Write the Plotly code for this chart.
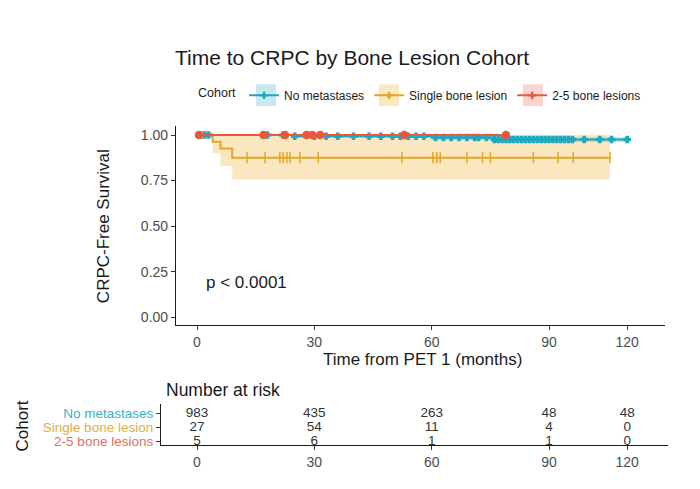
import plotly.graph_objects as go

# ---------------- data ----------------
cohorts = ["No metastases", "Single bone lesion", "2-5 bone lesions"]
line_colors = ["#1FA8BE", "#E3A726", "#E8583F"]
band_colors = ["rgba(31,168,190,0.30)", "rgba(240,180,60,0.32)", "rgba(232,88,63,0.30)"]
key_colors = ["rgba(31,168,190,0.25)", "rgba(240,180,60,0.30)", "rgba(232,88,63,0.25)"]
label_colors = ["#33B3C8", "#E0B040", "#D9745F"]

# Kaplan-Meier step data (time in months, survival)
nomet_t = [0, 25, 60, 76, 110]
nomet_s = [1.0, 0.993, 0.986, 0.976, 0.976]
nomet_lo = [1.0, 0.985, 0.975, 0.962, 0.962]
nomet_hi = [1.0, 1.0, 0.995, 0.988, 0.988]
nomet_cens = [1, 2, 3, 18, 22, 25, 30, 33, 36, 40, 44, 47, 50, 52, 54, 56, 58, 61, 63,
               65, 67, 69, 71, 72, 74, 76, 77, 78, 79, 80, 81, 82, 83, 84, 85, 86,
               87, 88, 89, 90, 91, 92, 93, 94, 95, 96, 99, 103, 106, 110]

single_t = [0, 4, 6, 9, 105.6]
single_s = [1.0, 0.963, 0.926, 0.876, 0.876]
single_lo = [1.0, 0.90, 0.83, 0.757, 0.757]
single_hi = [1.0, 1.0, 1.0, 1.0, 1.0]
single_cens = [12.8, 17.4, 21.2, 22.0, 23.0, 23.8, 26.3, 31.0, 52.4, 60.3, 61.3,
               62.2, 69.0, 73.0, 75.0, 86.0, 92.3, 96.2, 105.6]

lesion_t = [0, 79]
lesion_s = [1.0, 1.0]
lesion_cens = [0.5, 17.0, 22.5, 28.0, 29.5, 31.5, 53.0, 79.0]

# tick positions on the time axis and their labels
time_ticks = [0, 30, 60, 90, 110]
time_labels = ["0", "30", "60", "90", "120"]
surv_ticks = [0, 0.25, 0.5, 0.75, 1.0]

# number at risk
risk_nomet = [983, 435, 263, 48, 48]
risk_single = [27, 54, 11, 4, 0]
risk_lesion = [5, 6, 1, 1, 0]

p_text = "p < 0.0001"
title_text = "Time to CRPC by Bone Lesion Cohort"

# ---------------- helpers ----------------
def step_value(ts, ss, t):
    v = ss[0]
    for ti, si in zip(ts, ss):
        if ti <= t:
            v = si
    return v

FONT = "Liberation Sans, Arial, sans-serif"
GREY = "#4D4D4D"

fig = go.Figure()

curves = [
    (nomet_t, nomet_s, nomet_lo, nomet_hi, nomet_cens),
    (single_t, single_s, single_lo, single_hi, single_cens),
    (lesion_t, lesion_s, None, None, lesion_cens),
]

# ribbons
for i, (t, s, lo, hi, c) in enumerate(curves):
    if lo is None:
        continue
    fig.add_trace(go.Scatter(x=t, y=lo, mode="lines", line=dict(width=0, shape="hv"),
                             showlegend=False, hoverinfo="skip", xaxis="x", yaxis="y"))
    fig.add_trace(go.Scatter(x=t, y=hi, mode="lines", line=dict(width=0, shape="hv"),
                             fill="tonexty", fillcolor=band_colors[i],
                             showlegend=False, hoverinfo="skip", xaxis="x", yaxis="y"))

# lines + censor marks
symbols = ["cross", "line-ns-open", "circle"]
msizes = [5, 8, 7]
for i in [1, 0, 2]:
    t, s, lo, hi, c = curves[i]
    fig.add_trace(go.Scatter(x=t, y=s, mode="lines", line=dict(color=line_colors[i], width=2, shape="hv"),
                             showlegend=False, hoverinfo="skip", xaxis="x", yaxis="y"))
    fig.add_trace(go.Scatter(x=c, y=[step_value(t, s, v) for v in c], mode="markers",
                             marker=dict(symbol=symbols[i], size=msizes[i], color=line_colors[i],
                                         line=dict(color=line_colors[i], width=1.5)),
                             showlegend=False, hoverinfo="skip", xaxis="x", yaxis="y"))

# legend entries
for i, name in enumerate(cohorts):
    fig.add_trace(go.Scatter(x=[None], y=[None], mode="lines+markers", name=name,
                             line=dict(color=line_colors[i], width=2),
                             marker=dict(symbol="cross", size=6, color=line_colors[i]),
                             xaxis="x", yaxis="y"))

# risk table
risk_rows = [risk_nomet, risk_single, risk_lesion]
row_pos = [2, 1, 0]
for r, vals in enumerate(risk_rows):
    fig.add_trace(go.Scatter(x=time_ticks, y=[row_pos[r]] * len(vals), mode="text",
                             text=[str(v) for v in vals],
                             textfont=dict(family=FONT, size=13.5, color="#333333"),
                             showlegend=False, hoverinfo="skip", xaxis="x2", yaxis="y2"))

# ---------------- layout ----------------
W, H = 700, 489
def px_x(p):
    return p / W
def px_y(p):
    return 1 - p / H

scale = (549 - 197) / 90.0
x_lo = (176 - 197) / scale
x_hi = (665 - 197) / scale
x2_lo = (161 - 197) / scale
x2_hi = (668 - 197) / scale

axis_common = dict(showline=True, linecolor="#1a1a1a", linewidth=1.2, ticks="outside",
                   ticklen=4, tickcolor="#333333", showgrid=False, zeroline=False)

fig.update_layout(
    width=W, height=H,
    margin=dict(l=0, r=0, t=0, b=0),
    paper_bgcolor="white", plot_bgcolor="white",
    font=dict(family=FONT, color="#1a1a1a"),
    xaxis=dict(domain=[px_x(176), px_x(665)], range=[x_lo, x_hi], anchor="y",
               tickvals=time_ticks, ticktext=time_labels,
               tickfont=dict(family=FONT, size=14, color=GREY), **axis_common),
    yaxis=dict(domain=[px_y(328), px_y(127)], range=[-0.045, 1.05], anchor="x",
               tickvals=surv_ticks, tickformat=".2f",
               tickfont=dict(family=FONT, size=14, color=GREY), **axis_common),
    xaxis2=dict(domain=[px_x(161), px_x(668)], range=[x2_lo, x2_hi], anchor="y2",
                tickvals=time_ticks, ticktext=time_labels,
                tickfont=dict(family=FONT, size=14, color=GREY), **axis_common),
    yaxis2=dict(domain=[px_y(449), px_y(407)], range=[-0.3, 2.7], anchor="x2",
                tickvals=row_pos,
                ticktext=[f"<span style='color:{label_colors[k]}'>{cohorts[k]}</span>" for k in range(3)],
                tickfont=dict(family=FONT, size=13.5), **axis_common),
    legend=dict(orientation="h", x=px_x(196), y=px_y(81.5), xanchor="left", yanchor="top",
                title=dict(text="Cohort", side="left", font=dict(family=FONT, size=12.5, color="#1a1a1a")),
                font=dict(family=FONT, size=12, color="#1a1a1a"), bgcolor="rgba(0,0,0,0)",
                itemwidth=30, tracegroupgap=0, traceorder="normal"),
    showlegend=True,
)

# light key backgrounds behind legend symbols
for cx, col in zip([266, 389, 533], key_colors):
    fig.add_shape(type="rect", xref="paper", yref="paper",
                  x0=px_x(cx - 10), x1=px_x(cx + 10), y0=px_y(107), y1=px_y(85),
                  fillcolor=col, line=dict(width=0), layer="below")

fig.add_annotation(text=title_text, x=px_x(352), y=px_y(58), xref="paper", yref="paper",
                   showarrow=False, font=dict(family=FONT, size=21, color="#1a1a1a"),
                   xanchor="center", yanchor="middle")
fig.add_annotation(text="CRPC-Free Survival", x=px_x(103), y=px_y(228), xref="paper", yref="paper",
                   showarrow=False, textangle=-90, font=dict(family=FONT, size=17, color="#1a1a1a"),
                   xanchor="center", yanchor="middle")
fig.add_annotation(text="Time from PET 1 (months)", x=px_x(422), y=px_y(362), xref="paper", yref="paper",
                   showarrow=False, font=dict(family=FONT, size=17, color="#1a1a1a"),
                   xanchor="center", yanchor="middle")
fig.add_annotation(text=p_text, x=px_x(204), y=px_y(285), xref="paper", yref="paper",
                   showarrow=False, font=dict(family=FONT, size=17, color="#1a1a1a"),
                   xanchor="left", yanchor="middle")
fig.add_annotation(text="Number at risk", x=px_x(164), y=px_y(393), xref="paper", yref="paper",
                   showarrow=False, font=dict(family=FONT, size=17.5, color="#1a1a1a"),
                   xanchor="left", yanchor="middle")
fig.add_annotation(text="Cohort", x=px_x(22), y=px_y(430), xref="paper", yref="paper",
                   showarrow=False, textangle=-90, font=dict(family=FONT, size=17, color="#1a1a1a"),
                   xanchor="center", yanchor="middle")

fig.write_html("out.html")
